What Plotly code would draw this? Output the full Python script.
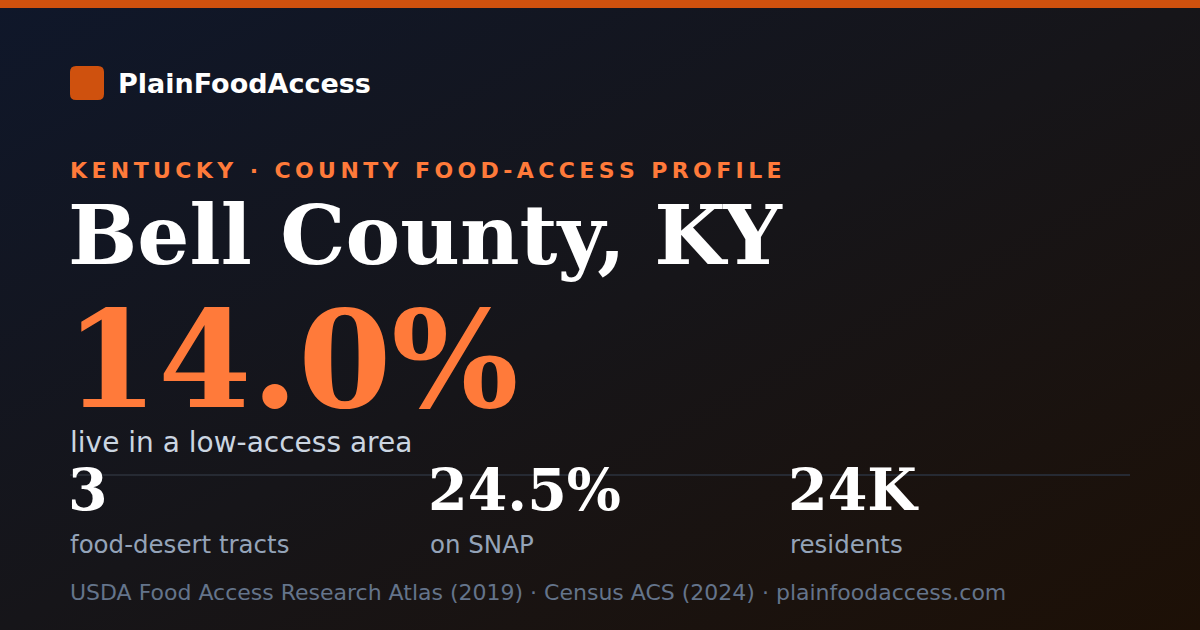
import plotly.graph_objects as go

# card content
brand = "PlainFoodAccess"
kicker = "KENTUCKY · COUNTY FOOD-ACCESS PROFILE"
county = "Bell County, KY"
headline_value = "14.0%"
headline_label = "live in a low-access area"
stat_values = ["3", "24.5%", "24K"]
stat_labels = ["food-desert tracts", "on SNAP", "residents"]
footer = "USDA Food Access Research Atlas (2019) · Census ACS (2024) · plainfoodaccess.com"

W, H = 1200, 630
ORANGE = "#cf510e"
ACCENT = "#ff7a3a"
SANS = "DejaVu Sans"
SERIF = "DejaVu Serif"

bg_svg = (
    "data:image/svg+xml;utf8,"
    "<svg xmlns='http://www.w3.org/2000/svg' width='1200' height='630'>"
    "<defs><linearGradient id='g' x1='0' y1='0' x2='1' y2='1'>"
    "<stop offset='0' stop-color='%230f172a'/>"
    "<stop offset='0.5' stop-color='%23161519'/>"
    "<stop offset='1' stop-color='%231d1006'/>"
    "</linearGradient></defs>"
    "<rect width='1200' height='630' fill='url(%23g)'/></svg>"
)


def spaced(text: str) -> str:
    """Fake letter-spacing with thin spaces."""
    return "\u2009".join(text)


fig = go.Figure()

annotations = [
    dict(x=116, y=83, text=f"<b>{brand}</b>", font=dict(family=SANS, size=27, color="white")),
    dict(x=68, y=170, text=f"<b>{spaced(kicker)}</b>", font=dict(family=SANS, size=22, color=ACCENT)),
    dict(x=66, y=235, text=f"<b>{county}</b>", font=dict(family=SERIF, size=82, color="white")),
    dict(x=63, y=360, text=f"<b>{headline_value}</b>", font=dict(family=SERIF, size=134, color=ACCENT)),
    dict(x=68, y=442, text=headline_label, font=dict(family=SANS, size=28, color="#cbd5e1")),
    dict(x=68, y=592, text=footer, font=dict(family=SANS, size=22, color="#64748b")),
]
for i, (val, lab) in enumerate(zip(stat_values, stat_labels)):
    x0 = 70 + 360 * i
    annotations.append(dict(x=x0 - 4, y=489, text=f"<b>{val}</b>",
                            font=dict(family=SERIF, size=57, color="white")))
    annotations.append(dict(x=x0 - 2, y=544, text=lab,
                            font=dict(family=SANS, size=24.5, color="#94a3b8")))
for a in annotations:
    a.update(xref="x", yref="y", xanchor="left", yanchor="middle", showarrow=False)

shapes = [
    dict(type="rect", x0=0, x1=W, y0=0, y1=8, fillcolor=ORANGE, line_width=0),
    dict(type="path", path="M 76 66 L 98 66 Q 104 66 104 72 L 104 94 Q 104 100 98 100 "
         "L 76 100 Q 70 100 70 94 L 70 72 Q 70 66 76 66 Z", fillcolor=ORANGE, line_width=0),
    dict(type="line", x0=70, x1=1130, y0=475, y1=475, line=dict(color="#262a33", width=2)),
]

fig.update_layout(
    width=W, height=H,
    margin=dict(l=0, r=0, t=0, b=0),
    paper_bgcolor="#131318", plot_bgcolor="rgba(0,0,0,0)",
    xaxis=dict(range=[0, W], visible=False, fixedrange=True),
    yaxis=dict(range=[H, 0], visible=False, fixedrange=True),
    images=[dict(source=bg_svg, xref="paper", yref="paper", x=0, y=1, sizex=1, sizey=1,
                 xanchor="left", yanchor="top", sizing="stretch", layer="below")],
    annotations=annotations,
    shapes=shapes,
    showlegend=False,
)

fig.write_html("out.html", config={"displayModeBar": False},
               post_script="document.body.style.margin='0';document.body.style.overflow='hidden';")
